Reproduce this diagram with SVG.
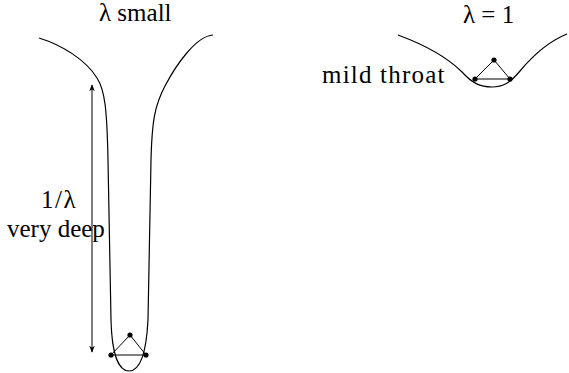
<svg xmlns="http://www.w3.org/2000/svg" width="569" height="373" viewBox="0 0 569 373">
<style>
.c{fill:none;stroke:#000;stroke-width:1.2}
.e{fill:none;stroke:#000;stroke-width:1}
.d{fill:#000}
</style>
<defs>
<marker id="ah" viewBox="0 0 10 10" refX="9" refY="5" markerWidth="7" markerHeight="7" orient="auto-start-reverse">
<path d="M0,1 L10,5 L0,9 L3,5 Z" fill="#000"/>
</marker>
</defs>
<rect width="569" height="373" fill="#fff"/>
<g id="funnel-left">
<path class="c" d="M39,38 C62,45 86,60 97,78 C105,90 107,110 108,160 L111,320 C112,358 120,371 129,371 C138,371 146,358 148,320 L151,160 C152,120 155,105 165,86 C176,65 196,36 213,35"/>
<text font-family="Liberation Serif" font-size="25" fill="#000" x="99" y="21">λ small</text>
</g>
<g id="triangle-left">
<line class="e" x1="130" y1="335" x2="111" y2="355"/>
<line class="e" x1="130" y1="335" x2="146" y2="355"/>
<line class="e" x1="111" y1="355" x2="146" y2="355"/>
<circle class="d" cx="130" cy="335" r="2.6"/>
<circle class="d" cx="111" cy="355" r="2.6"/>
<circle class="d" cx="146" cy="355" r="2.6"/>
</g>
<g id="depth-label">
<text font-family="Liberation Serif" font-size="25" fill="#000" x="41" y="208" letter-spacing="1.5">1/λ</text>
<text font-family="Liberation Serif" font-size="25" fill="#000" x="7" y="237">very deep</text>
</g>
<g id="funnel-right">
<path class="c" d="M398,35 C425,45 448,58 462,72 C472,83 480,87 492,87 C503,87 510,83 520,71 C535,53 552,40 567,34"/>
<text font-family="Liberation Serif" font-size="25" fill="#000" x="463" y="23">λ = 1</text>
<text font-family="Liberation Serif" font-size="25" fill="#000" x="322" y="83" letter-spacing="1.2">mild throat</text>
</g>
<g id="triangle-right">
<line class="e" x1="494" y1="60" x2="475" y2="79"/>
<line class="e" x1="494" y1="60" x2="510" y2="79"/>
<line class="e" x1="475" y1="79" x2="510" y2="79"/>
<circle class="d" cx="494" cy="60" r="2.6"/>
<circle class="d" cx="475" cy="79" r="2.6"/>
<circle class="d" cx="510" cy="79" r="2.6"/>
</g>
<g id="connectors">
<line class="e" x1="92" y1="352" x2="92" y2="85" marker-start="url(#ah)" marker-end="url(#ah)"/>
</g>
</svg>
